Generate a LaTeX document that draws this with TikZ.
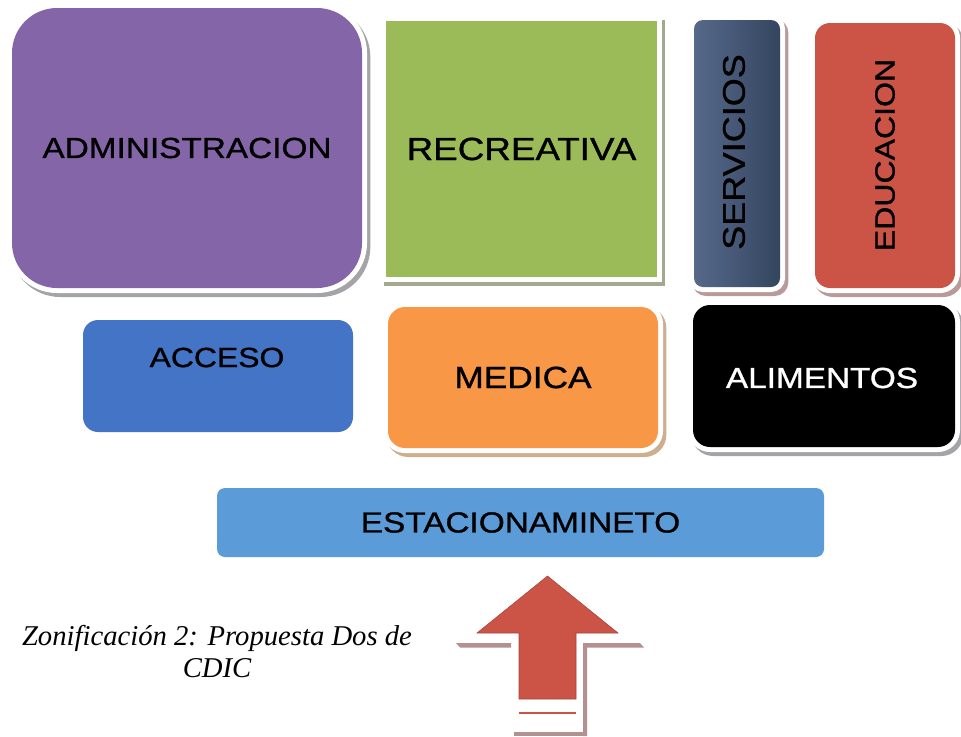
\documentclass[tikz,border=0pt]{standalone}
\usepackage{fontspec}
\setmainfont{Liberation Serif}
\newfontfamily\lbl[FakeStretch=1.15,FakeBold=1]{Liberation Sans}
\usetikzlibrary{shadows}
\definecolor{cpurple}{HTML}{8466A8}
\definecolor{cgreen}{HTML}{9BBB59}
\definecolor{cslateL}{HTML}{56698A}
\definecolor{cslateR}{HTML}{34455F}
\definecolor{cred}{HTML}{CB5447}
\definecolor{cblue}{HTML}{4474C5}
\definecolor{corange}{HTML}{F89746}
\definecolor{csky}{HTML}{5A9BD8}
\definecolor{shgray}{HTML}{A3A3A8}
\definecolor{shgreen}{HTML}{A3A98E}
\definecolor{shbrown}{HTML}{B89A9A}
\definecolor{shtan}{HTML}{CDAE8E}
\definecolor{cline}{HTML}{B39191}
\tikzset{
  zone/.style={inner sep=0pt, outer sep=0pt, text=black,
    font=\lbl\fontsize{21.75}{26}\selectfont},
  framed/.style={general shadow={fill=#1, draw=#1, line width=7.5pt,
      shadow xshift=2.5pt, shadow yshift=-3pt},
    preaction={draw=white, line width=7.5pt}},
  capt/.style={font=\itshape\fontsize{21.5}{24}\selectfont, align=center, inner sep=0pt}
}
\begin{document}
\begin{tikzpicture}[x=0.75pt,y=-0.75pt]
\useasboundingbox (0,0) rectangle (961,736);
% top row
\node[zone, framed=shgray, fill=cpurple, rounded corners=45*0.75pt,
  minimum width=350*0.75pt, minimum height=280*0.75pt] (adm) at (187,148) {ADMINISTRACION};
\node[zone, framed=shgreen, fill=cgreen, font=\lbl\fontsize{24}{26}\selectfont,
  minimum width=271*0.75pt, minimum height=256*0.75pt] (rec) at (521.5,149) {RECREATIVA};
\node[zone, framed=shbrown, left color=cslateL, right color=cslateR, rounded corners=9*0.75pt,
  minimum width=86*0.75pt, minimum height=267*0.75pt] (ser) at (737,153.5) {};
\node[zone, rotate=90, font=\lbl\fontsize{23.5}{26}\selectfont] (sertxt) at (734,152) {SERVICIOS};
\node[zone, framed=shbrown, fill=cred, rounded corners=15*0.75pt,
  minimum width=140*0.75pt, minimum height=265*0.75pt] (edu) at (885,155.5) {};
\node[zone, rotate=90, font=\lbl\fontsize{20.9}{26}\selectfont] (edutxt) at (885,155) {EDUCACION};
% middle row
\node[zone, fill=cblue, rounded corners=15*0.75pt,
  minimum width=270*0.75pt, minimum height=112*0.75pt] (acc) at (218,376) {};
\node[zone, font=\lbl\fontsize{20.8}{26}\selectfont] (acctxt) at (217,357.5) {ACCESO};
\node[zone, framed=shtan, fill=corange, rounded corners=17*0.75pt,
  minimum width=270*0.75pt, minimum height=141*0.75pt, font=\lbl\fontsize{23}{26}\selectfont] (med) at (523,377.5) {MEDICA};
\node[zone, framed=shgray, fill=black, rounded corners=17*0.75pt,
  minimum width=262*0.75pt, minimum height=142*0.75pt] (ali) at (824,376) {};
\node[zone, text=white] (alitxt) at (822,378) {ALIMENTOS};
% bottom
\node[zone, fill=csky, rounded corners=8*0.75pt,
  minimum width=607*0.75pt, minimum height=69*0.75pt] (est) at (520.5,522.5) {ESTACIONAMINETO};
% caption
\node[capt] (cap) at (217,652) {Zonificación 2: Propuesta Dos de\\CDIC};
% arrow
\fill[cline] (456,643) -- (511,643) -- (511,647.5) -- (460,647.5) -- cycle;
\fill[cline] (583,643) -- (640,643) -- (644,647.5) -- (587,647.5) -- (587,736) -- (583,736) -- cycle;
\fill[cline] (514,732) -- (585,732) -- (585,736) -- (514,736) -- cycle;
\filldraw[fill=cred, draw=cred!80!black, line width=0.4pt]
  (519,699) -- (519,633) -- (477,633) -- (547.5,576) -- (618,633) -- (576,633) -- (576,699) -- cycle;
\draw[cred, line width=2.2*0.75pt] (519,713) -- (576,713);
\end{tikzpicture}
\end{document}
